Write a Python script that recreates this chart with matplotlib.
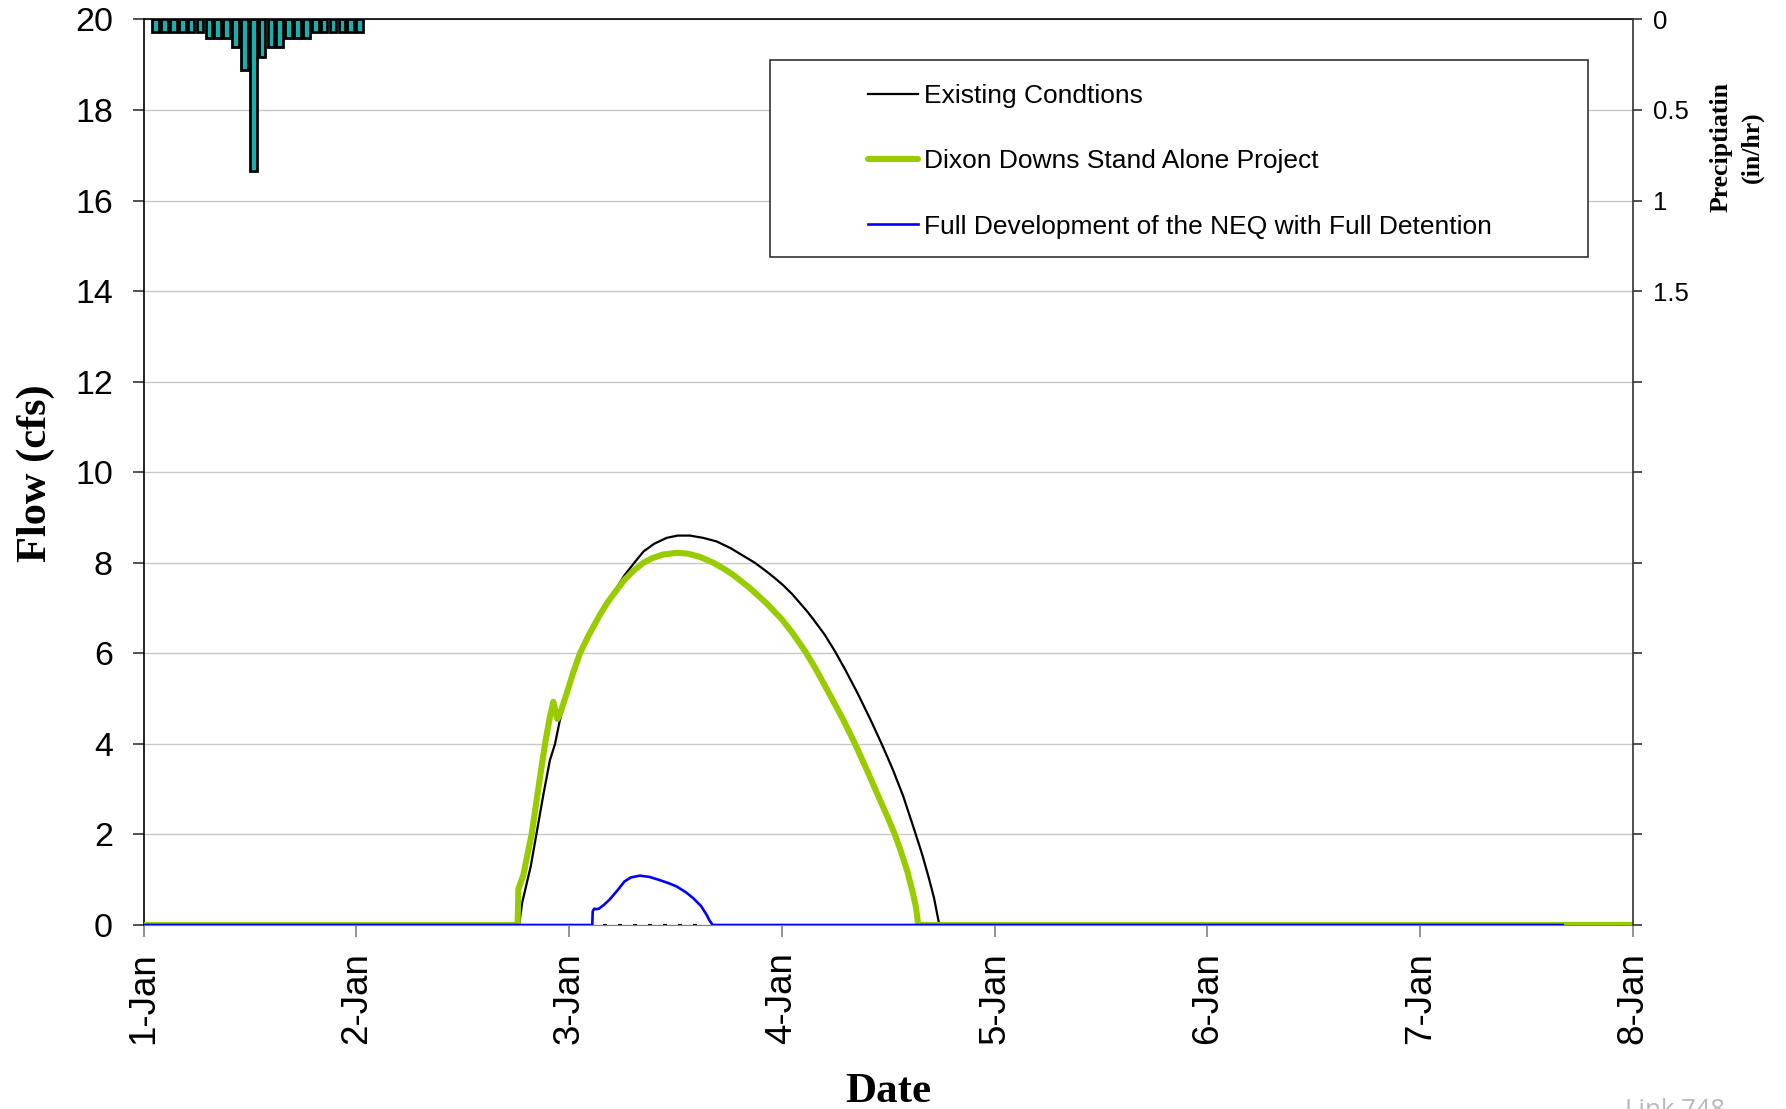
import matplotlib
matplotlib.use("Agg")
import matplotlib.pyplot as plt
from matplotlib.patches import Rectangle
from matplotlib.lines import Line2D

# ---- data -------------------------------------------------------------
# time axis: days after 1-Jan 00:00
day_ticks = [0, 1, 2, 3, 4, 5, 6, 7]
day_labels = ["1-Jan", "2-Jan", "3-Jan", "4-Jan", "5-Jan", "6-Jan", "7-Jan", "8-Jan"]

# hourly rainfall (in/hr), hour index on 1-Jan
precip_hour = [1, 2, 3, 4, 5, 6, 7, 8, 9, 10, 11, 12,
               13, 14, 15, 16, 17, 18, 19, 20, 21, 22, 23, 24]
precip_rate = [0.07, 0.07, 0.07, 0.07, 0.07, 0.07, 0.10, 0.10, 0.10, 0.155, 0.28, 0.835,
               0.21, 0.155, 0.155, 0.10, 0.10, 0.10, 0.07, 0.07, 0.07, 0.07, 0.07, 0.07]

# Existing conditions hydrograph
exist_day = [0.0, 1.765, 1.78, 1.82, 1.85, 1.88, 1.91, 1.934, 1.957, 2.0,
             2.04, 2.08, 2.145, 2.19, 2.224, 2.26, 2.31, 2.35, 2.40, 2.459,
             2.51, 2.568, 2.63, 2.694, 2.76, 2.82, 2.873, 2.93, 2.97, 3.007,
             3.05, 3.085, 3.12, 3.148, 3.20, 3.249, 3.30, 3.36, 3.42, 3.469,
             3.52, 3.57, 3.626, 3.66, 3.69, 3.715, 3.74, 7.0]
exist_flow = [0.0, 0.0, 0.5, 1.3, 2.1, 2.9, 3.64, 4.0, 4.53, 5.25,
              5.8, 6.3, 6.88, 7.22, 7.45, 7.72, 8.02, 8.25, 8.42, 8.55,
              8.60, 8.60, 8.55, 8.47, 8.32, 8.15, 8.0, 7.80, 7.65, 7.50,
              7.30, 7.11, 6.92, 6.75, 6.42, 6.05, 5.62, 5.08, 4.50, 4.0,
              3.45, 2.85, 2.05, 1.55, 1.05, 0.6, 0.0, 0.0]

# Dixon Downs stand alone project hydrograph
dixon_day = [0.0, 1.758, 1.762, 1.785, 1.80, 1.824, 1.855, 1.887, 1.91, 1.926,
             1.937, 1.945, 1.96, 1.989, 2.02, 2.051, 2.09, 2.145, 2.18, 2.224,
             2.26, 2.302, 2.349, 2.39, 2.44, 2.506, 2.56, 2.615, 2.678, 2.73,
             2.772, 2.85, 2.929, 3.0, 3.05, 3.109, 3.16, 3.226, 3.29, 3.344,
             3.40, 3.45, 3.50, 3.531, 3.56, 3.59, 3.615, 3.63, 3.641, 7.0]
dixon_flow = [0.0, 0.0, 0.8, 1.1, 1.45, 2.0, 3.0, 4.0, 4.6, 4.93,
              4.7, 4.55, 4.7, 5.12, 5.58, 6.0, 6.38, 6.85, 7.12, 7.40,
              7.62, 7.82, 8.0, 8.10, 8.18, 8.22, 8.20, 8.13, 8.0, 7.86,
              7.73, 7.44, 7.10, 6.75, 6.45, 6.05, 5.65, 5.08, 4.52, 4.0,
              3.42, 2.88, 2.35, 2.0, 1.62, 1.18, 0.72, 0.4, 0.0, 0.0]

# Full development of the NEQ with full detention
neq_day = [0.0, 2.109, 2.111, 2.118, 2.128, 2.14, 2.165, 2.192, 2.23, 2.26,
           2.29, 2.333, 2.38, 2.427, 2.47, 2.506, 2.55, 2.584, 2.62, 2.647,
           2.66, 2.675, 6.67]
neq_flow = [0.0, 0.0, 0.30, 0.36, 0.35, 0.36, 0.45, 0.57, 0.78, 0.96,
            1.05, 1.09, 1.06, 0.99, 0.92, 0.85, 0.72, 0.59, 0.42, 0.22,
            0.10, 0.0, 0.0]

# zero-flow reference segment under the NEQ hydrograph
ref_day = [2.16, 2.65]
ref_flow = [0.0, 0.0]

series_names = ["Existing Condtions",
                "Dixon Downs Stand Alone Project",
                "Full Development of the NEQ with Full Detention"]

# ---- figure -----------------------------------------------------------
W, H = 1786, 1109
fig = plt.figure(figsize=(W / 100, H / 100), dpi=100)
L, R, T, B = 143.5, 1633, 19.4, 925
ax = fig.add_axes([L / W, 1 - B / H, (R - L) / W, (B - T) / H])

sans = "Liberation Sans"
serif = "Liberation Serif"

ax.set_xlim(0, 7)
ax.set_ylim(0, 20)
ax.set_yticks(range(0, 21, 2))
ax.set_xticks(day_ticks)
ax.set_xticklabels(day_labels, rotation=90, fontsize=26.5, family=sans)
for lab in ax.get_yticklabels():
    lab.set_family(sans)
    lab.set_fontsize(24.5)
ax.tick_params(axis="y", direction="out", length=8, width=1.2, color="#333333", pad=14)
ax.tick_params(axis="x", direction="out", length=8.5, width=1.2, color="#808080", pad=11)
ax.grid(axis="y", color="#c8c8c8", linewidth=1.0)
ax.set_axisbelow(True)
ax.spines["left"].set_color("black")
ax.spines["left"].set_linewidth(1.2)
ax.spines["top"].set_color("black")
ax.spines["top"].set_linewidth(1.2)
ax.spines["bottom"].set_color("#808080")
ax.spines["right"].set_visible(False)

# hydrographs
ax.plot(exist_day, exist_flow, color="black", linewidth=1.6, zorder=3)
ax.plot(dixon_day, dixon_flow, color="#99CC00", linewidth=4.4, zorder=4,
        solid_joinstyle="round")
ax.plot(ref_day, ref_flow, color="black", linewidth=1.5, linestyle=(0, (1.9, 5.3)), zorder=4.5)
ax.plot(neq_day, neq_flow, color="#0000FF", linewidth=1.9, zorder=5)

# precipitation on an inverted secondary axis
ax2 = ax.twinx()
ax2.set_ylim(5, 0)
ax2.set_yticks([i * 0.5 for i in range(11)])
ax2.set_yticklabels(["0", "0.5", "1", "1.5"] + [""] * 7, family=sans, fontsize=18.5)
ax2.tick_params(axis="y", direction="out", length=6.5, width=1.2, color="#333333", pad=8)
ax2.spines["right"].set_color("#333333")
ax2.spines["right"].set_linewidth(1.2)
for s in ("left", "top", "bottom"):
    ax2.spines[s].set_visible(False)
ax2.bar([h / 24 for h in precip_hour], precip_rate, width=0.75 / 24, align="edge",
        color="#1AAFAF", edgecolor="black", linewidth=2.0, zorder=3)

# axis titles
fig.text(35.5 / W, 1 - 473 / H, "Flow (cfs)", rotation=90, ha="center", va="center",
         family=serif, weight="bold", fontsize=30.5)
fig.text(888 / W, 1 - 1102 / H, "Date", ha="center", va="baseline",
         family=serif, weight="bold", fontsize=31)
fig.text(1737 / W, 1 - 147 / H, "Preciptiatin\n(in/hr)", rotation=90, ha="center",
         va="center", multialignment="center", linespacing=1.45,
         family=serif, weight="bold", fontsize=18.5)
fig.text(1625 / W, 1 - 1098 / H, "Link 748", ha="left", va="top",
         family="Open Sans", fontsize=18.5, color="#b8b8b8")

# legend box and entries
fig.patches.append(Rectangle((770 / W, 1 - 257 / H), (1588 - 770) / W, (257 - 60) / H,
                             transform=fig.transFigure, facecolor="white",
                             edgecolor="#333333", linewidth=1.2, zorder=10))
handles = [Line2D([], [], color="black", linewidth=1.6),
           Line2D([], [], color="#99CC00", linewidth=4.4, solid_capstyle="round"),
           Line2D([], [], color="#0000FF", linewidth=1.9)]
fs = 19
fpx = fs * 100 / 72
leg = fig.legend(handles, series_names, loc="center left",
                 bbox_to_anchor=(868 / W, 1 - 161.5 / H), bbox_transform=fig.transFigure,
                 frameon=False, borderpad=0, borderaxespad=0,
                 handlelength=50 / fpx, handletextpad=6 / fpx, labelspacing=1.56,
                 prop={"family": sans, "size": fs})
leg.set_zorder(11)

fig.savefig("out.png", dpi=100)
